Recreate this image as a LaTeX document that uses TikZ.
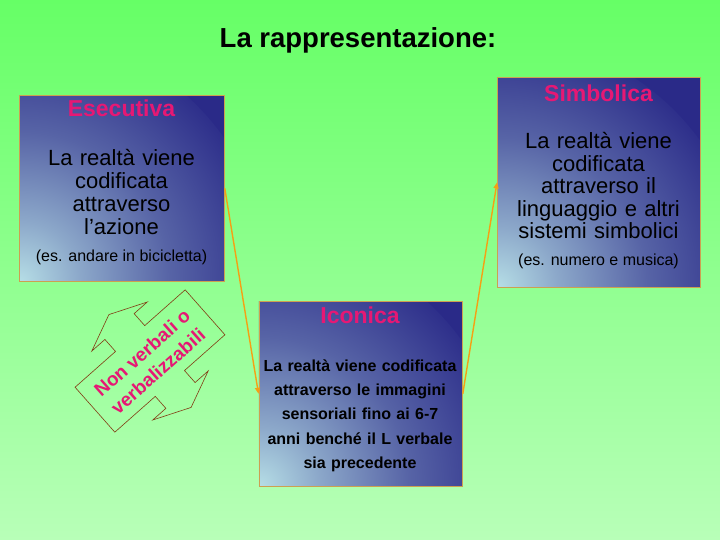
\documentclass[tikz,border=0pt]{standalone}
\usepackage{fontspec}
\setmainfont{Liberation Sans}
\usetikzlibrary{arrows.meta,shadings}
\definecolor{bgtop}{RGB}{102,255,102}
\definecolor{bgbot}{RGB}{184,255,184}
\definecolor{boxdark}{RGB}{42,42,136}
\definecolor{boxlight}{RGB}{182,222,230}
\colorlet{boxmidA}{boxlight!70!boxdark}
\colorlet{boxmidB}{boxlight!32!boxdark}
\definecolor{titlepink}{RGB}{230,24,116}
\definecolor{conncol}{RGB}{245,160,20}
\definecolor{boxedge}{RGB}{205,160,80}
\definecolor{arrowedge}{RGB}{130,60,20}
\pgfdeclareradialshading{cornershade}{\pgfpointorigin}{color(0bp)=(boxlight); color(6bp)=(boxmidA); color(15bp)=(boxmidB); color(26bp)=(boxdark); color(50bp)=(boxdark)}
\begin{document}
\begin{tikzpicture}[x=1pt,y=-1pt,
  boxst/.style={draw=boxedge, line width=0.8pt, inner sep=0pt, anchor=north west,
    path picture={\fill[boxdark] (path picture bounding box.south west) rectangle (path picture bounding box.north east);
      \shade[shading=cornershade] (path picture bounding box.south west) circle (250pt);}},
  boxtitle/.style={font=\fontsize{23}{25}\selectfont\bfseries, text=titlepink, anchor=base, inner sep=0pt},
  bodyst/.style={font=\fontsize{22}{23}\selectfont, text width=200pt, align=center, anchor=base, inner sep=0pt},
  notest/.style={font=\fontsize{16}{18}\selectfont, anchor=base, inner sep=0pt},
  iconbody/.style={font=\fontsize{16}{24.2}\selectfont\bfseries, text width=200pt, align=center, anchor=base, inner sep=0pt},
  conn/.style={draw=conncol, line width=1.4pt, -{Triangle[length=6pt,width=5pt]}},
  dblarrow/.style={draw=arrowedge, line width=0.6pt, line join=miter}
]
\useasboundingbox (0,0) rectangle (720,540);
\shade[top color=bgtop, bottom color=bgbot] (0,0) rectangle (720,540);

\node[font=\fontsize{27.5}{29}\selectfont\bfseries, anchor=base, inner sep=0pt] (title) at (358,48) {La rappresentazione:};

% Esecutiva
\node[boxst, minimum width=205pt, minimum height=186pt] (ese) at (19,95) {};
\node[boxtitle] (eset) at (121.5,117) {Esecutiva};
\node[bodyst] (eseb) at (121.5,166) {La realtà viene\\codificata\\attraverso\\l’azione};
\node[notest] (esen) at (121.5,261) {(es. andare in bicicletta)};

% Simbolica
\node[boxst, minimum width=203pt, minimum height=209pt] (sim) at (497,77.5) {};
\node[boxtitle] (simt) at (598.5,101.5) {Simbolica};
\node[bodyst, font=\fontsize{22}{22.5}\selectfont] (simb) at (598.5,149) {La realtà viene\\codificata\\attraverso il\\linguaggio e altri\\sistemi simbolici};
\node[notest] (simn) at (598.5,265) {(es. numero e musica)};

% Iconica
\node[boxst, minimum width=203.5pt, minimum height=185.5pt] (ico) at (258.5,300.6) {};
\node[boxtitle] (icot) at (360,323) {Iconica};
\node[iconbody] (icob) at (360,371.5) {La realtà viene codificata\\attraverso le immagini\\sensoriali fino ai 6-7\\anni benché il L verbale\\sia precedente};

% connectors
\draw[conn] (ese.east) -- (ico.west);
\draw[conn] (ico.east) -- (sim.west);

% double arrow
\begin{scope}[shift={(150,361)}, rotate=41.5]
\draw[dblarrow] (-73.5pt,-30pt) -- (-19.5pt,-30pt) -- (-19.5pt,-46pt) -- (-37pt,-46pt) -- (0pt,-62pt) -- (37pt,-46pt) -- (19.5pt,-46pt) -- (19.5pt,-30pt) -- (73.5pt,-30pt) -- (73.5pt,30pt) -- (19.5pt,30pt) -- (19.5pt,46pt) -- (37pt,46pt) -- (0pt,62pt) -- (-37pt,46pt) -- (-19.5pt,46pt) -- (-19.5pt,30pt) -- (-73.5pt,30pt) -- cycle;
\end{scope}
\node[rotate=41.5, font=\fontsize{19}{24}\selectfont\bfseries, text=titlepink, align=center, inner sep=0pt] (nv) at (150,362) {Non verbali o\\verbalizzabili};
\end{tikzpicture}
\end{document}
